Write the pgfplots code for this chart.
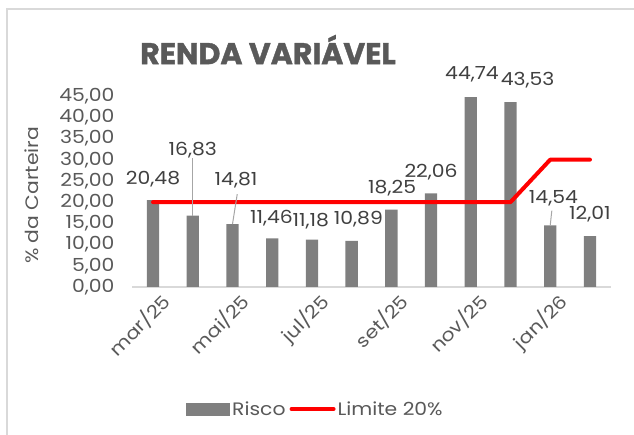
\documentclass[border=0pt]{standalone}
\usepackage{pgfplots}
\pgfplotsset{compat=1.18}
\usepackage{fontspec}
\setmainfont{Poppins-Regular.ttf}[BoldFont=Poppins-Bold.ttf]
\newfontfamily\widefont{Poppins-Regular.ttf}[FakeStretch=1.13]
\newfontfamily\titlefont{Poppins-Bold.ttf}[FakeBold=1.3]
\definecolor{barc}{HTML}{7F7F7F}
\definecolor{limc}{HTML}{FF0000}
\definecolor{textc}{HTML}{595959}
\definecolor{labc}{HTML}{404040}
\definecolor{axisc}{HTML}{D9D9D9}
\definecolor{leadc}{HTML}{A6A6A6}
\begin{document}
\begin{tikzpicture}[x=1pt,y=1pt]
\useasboundingbox (0,0) rectangle (634,435);
\draw[color=axisc, line width=1.5pt] (7,-5) -- (7,426) -- (640,426);
\begin{axis}[
  at={(132pt,148pt)}, anchor=south west,
  scale only axis, width=479pt, height=191pt,
  xmin=-0.53, xmax=11.53, ymin=0, ymax=45,
  clip=false,
  axis x line*=bottom, axis y line*=left,
  y axis line style={draw=none},
  x axis line style={color=axisc, line width=1.5pt, -},
  major tick length=0pt,
  ytick={0,5,...,45},
  xtick={0,2,4,6,8,10},
  xticklabels={mar/25, mai/25, jul/25, set/25, nov/25, jan/26},
  /pgf/number format/.cd, fixed, fixed zerofill, precision=2, use comma, assume math mode=true,
  /pgfplots/.cd,
  tick label style={font=\widefont\fontsize{18}{20}\selectfont, text=textc},
  yticklabel style={xshift=-14pt, anchor=east},
  xticklabel style={rotate=45, anchor=north east, xshift=5pt, yshift=-4pt},
  ylabel={\% da Carteira},
  ylabel style={at={(axis description cs:-0.209,0.48)}, anchor=center, rotate=0, font=\widefont\fontsize{18}{20}\selectfont, text=textc},
  title={RENDA VARIÁVEL},
  title style={at={(axis description cs:0.284,1.212)}, anchor=center, font=\titlefont\fontsize{30}{34}\selectfont, text=textc},
  legend style={at={(axis description cs:0.383,-0.639)}, anchor=center, draw=none, fill=none,
    legend columns=2, font=\widefont\fontsize{18}{20}\selectfont, text=textc,
    /tikz/every even column/.append style={column sep=2pt}},
]
\addplot[ybar, bar width=12.3pt, fill=barc, draw=none,
  legend image code/.code={\fill[barc] (0pt,-6.5pt) rectangle (44pt,6.5pt);}]
  coordinates {(0,20.48) (1,16.83) (2,14.81) (3,11.46) (4,11.18) (5,10.89)
               (6,18.25) (7,22.06) (8,44.74) (9,43.53) (10,14.54) (11,12.01)};
\addlegendentry{Risco}
\addplot[color=limc, line width=4pt, line cap=round, line join=round, mark=none,
  legend image code/.code={\draw[limc, line width=4pt, line cap=round] (2pt,0pt) -- (44pt,0pt);}]
  coordinates {(0,20) (1,20) (2,20) (3,20) (4,20) (5,20) (6,20) (7,20) (8,20) (9,20) (10,30) (11,30)};
\addlegendentry{Limite 20\%}
% leader lines
\addplot[forget plot, color=leadc, line width=1pt, mark=none] coordinates {(1,16.83) (1.0,30.4)};
\addplot[forget plot, color=leadc, line width=1pt, mark=none] coordinates {(2,14.81) (2.12,21.9)};
\addplot[forget plot, color=leadc, line width=1pt, mark=none] coordinates {(10,14.54) (10.04,18.0)};
% data labels
\addplot[forget plot, draw=none, mark=none, nodes near coords, point meta=explicit symbolic,
  nodes near coords style={anchor=center, font=\widefont\fontsize{18}{20}\selectfont, text=labc}]
  table[meta=label] {
x y label
0 25.4 20,48
1.0 32.3 16,83
2.09 25.1 14,81
2.98 16.3 11,46
3.97 15.6 11,18
5.17 15.9 10,89
6.02 23.4 18,25
7.0 27.1 22,06
8.03 50.0 44,74
9.43 48.8 43,53
10.08 20.9 14,54
11.0 17.1 12,01
};
\end{axis}
\end{tikzpicture}
\end{document}
